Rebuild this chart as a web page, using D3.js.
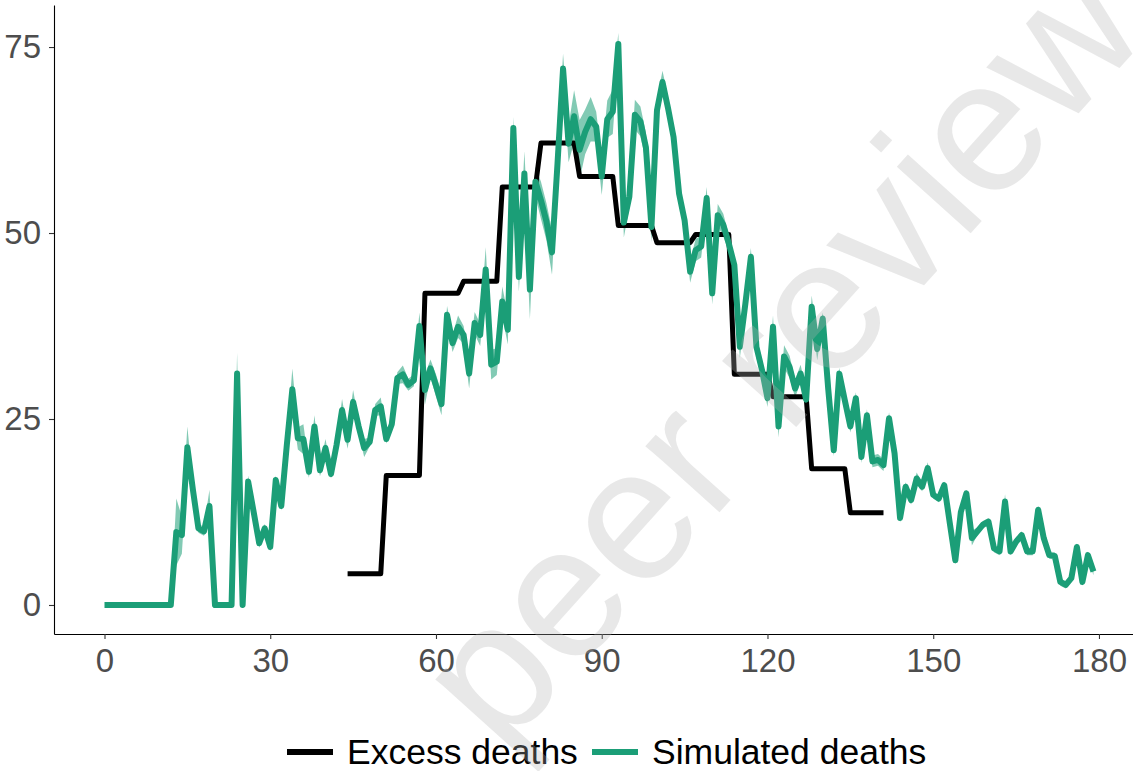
<!DOCTYPE html>
<html>
<head>
<meta charset="utf-8">
<script src="https://cdn.jsdelivr.net/npm/d3@7/dist/d3.min.js"></script>
<style>
  body { margin: 0; background: #fff; }
  text { font-family: "Liberation Sans", Arial, sans-serif; }
</style>
</head>
<body>
<div id="chart"></div>
<script>
// Simulated deaths per day (day 0 .. 179)
const simDeaths = [
  0, 0, 0, 0, 0, 0, 0, 0, 0, 0, 0, 0, 0, 9.8, 9.4, 21.2, 15.5, 10.3, 9.9, 13.3,
  0, 0, 0, 0, 31.1, 0, 16.6, 12.5, 8.3, 10.3, 7.8, 16.8, 13.3, 21.5, 29.0, 22.4, 22.3, 17.9, 24.0, 18.1,
  21.1, 17.6, 21.5, 26.2, 22.2, 27.3, 24.0, 21.1, 21.9, 26.2, 26.7, 22.3, 24.3, 30.5, 31.0, 29.6, 30.2, 37.5, 28.9, 31.8,
  29.5, 27.0, 39.0, 35.2, 37.4, 36.3, 31.1, 37.9, 36.3, 45.1, 32.3, 32.7, 40.8, 37.0, 64.1, 44.1, 58.0, 42.4, 56.9, 54.4,
  51.5, 47.4, 59.4, 72.1, 62.0, 65.7, 61.2, 63.6, 65.3, 64.3, 57.6, 65.3, 66.3, 75.4, 51.4, 54.9, 65.9, 65.0, 61.5, 50.8,
  66.5, 70.3, 66.8, 62.9, 55.3, 51.7, 44.8, 47.7, 48.2, 54.7, 41.9, 52.4, 51.1, 48.6, 45.7, 34.7, 40.5, 46.8, 34.7, 31.6,
  27.8, 37.4, 24.0, 33.4, 32.0, 29.1, 31.1, 27.6, 40.1, 34.4, 38.5, 29.0, 20.8, 31.1, 27.5, 24.0, 27.8, 19.9, 25.5, 19.3,
  19.5, 18.8, 25.1, 20.4, 11.7, 15.9, 14.1, 17.0, 15.9, 18.4, 14.8, 14.3, 16.1, 11.0, 6.0, 12.5, 15.0, 9.0, 9.9, 10.8,
  11.2, 7.6, 7.2, 13.9, 7.2, 8.5, 9.4, 7.2, 7.2, 12.8, 9.0, 6.7, 6.6, 3.1, 2.7, 3.6, 7.8, 3.1, 6.7, 4.5
];

// Half-width of the uncertainty band around the simulated deaths
const simSpread = [
  0, 0, 0, 0, 0, 0, 0, 0, 0, 0, 0, 0, 0, 4.5, 2.5, 2.8, 0.8, 0.6, 0.6, 2.2,
  0, 0, 0, 0, 2.8, 0, 0.8, 0.6, 0.6, 0.6, 0.6, 0.6, 0.6, 0.8, 2.8, 1.5, 2.0, 0.8, 1.5, 0.8,
  1.2, 0.6, 0.6, 1.5, 1.2, 1.6, 0.8, 1.2, 0.6, 0.8, 1.2, 0.6, 0.6, 0.8, 1.2, 0.8, 0.8, 1.8, 2.0, 1.2,
  1.5, 1.5, 1.2, 1.2, 1.5, 1.2, 2.0, 1.5, 1.5, 3.0, 2.0, 1.8, 2.0, 2.0, 1.5, 2.0, 3.0, 4.0, 2.0, 2.5,
  2.5, 3.0, 2.0, 2.0, 2.5, 3.5, 4.0, 3.0, 3.0, 2.0, 2.5, 2.5, 3.0, 1.5, 2.0, 1.5, 2.0, 2.0, 2.0, 2.0,
  1.5, 1.5, 1.5, 1.2, 1.2, 1.2, 1.5, 1.5, 1.5, 1.5, 1.5, 1.5, 1.5, 1.2, 1.2, 1.5, 1.5, 1.2, 1.5, 1.2,
  1.2, 1.5, 1.5, 1.5, 1.5, 1.2, 1.2, 1.2, 1.5, 1.5, 0.8, 0.8, 0.8, 0.8, 0.8, 0.8, 0.8, 0.8, 0.8, 0.8,
  0.8, 0.8, 0.8, 0.6, 0.6, 0.6, 0.6, 0.8, 0.6, 0.8, 0.5, 0.5, 0.5, 0.5, 0.5, 0.5, 0.5, 1.0, 0.5, 0.5,
  0.5, 0.5, 0.5, 1.0, 0.5, 0.5, 0.5, 0.5, 0.5, 0.5, 0.5, 0.5, 0.5, 0.5, 0.5, 0.5, 0.5, 0.5, 0.5, 0.5
];

// Excess deaths: weekly values, each held for 7 days from its start day
const excessWeekStart = [44, 51, 58, 65, 72, 79, 86, 93, 100, 107, 114, 121, 128, 135];
const excessDeaths = [4.2, 17.4, 41.9, 43.5, 56.2, 62.1, 57.6, 51.0, 48.7, 49.8, 31.0, 28.0, 18.3, 12.4];

const xTicks = [0, 30, 60, 90, 120, 150, 180];
const yTicks = [0, 25, 50, 75];
const legendLabels = ["Excess deaths", "Simulated deaths"];
const legendColors = ["#000000", "#1b9e77"];

const W = 1133, H = 771;
const green = "#1b9e77";

const svg = d3.select("#chart").append("svg")
  .attr("width", W)
  .attr("height", H);

const x = d3.scaleLinear().domain([-9.14, 186.16]).range([54, 1133]);
const y = d3.scaleLinear().domain([-3.9, 80.65]).range([634, 5]);

// Build rows
const simRows = simDeaths.map((v, i) => ({ day: i, v: v, lo: v - simSpread[i], hi: v + simSpread[i] }));
const excessRows = [];
excessWeekStart.forEach((s, i) => {
  excessRows.push({ day: s, v: excessDeaths[i] });
  excessRows.push({ day: s + 6, v: excessDeaths[i] });
});

// Ribbon
svg.append("path")
  .datum(simRows)
  .attr("fill", green)
  .attr("fill-opacity", 0.55)
  .attr("d", d3.area()
    .x(d => x(d.day))
    .y0(d => y(d.lo))
    .y1(d => y(d.hi)));

// Excess deaths
svg.append("path")
  .datum(excessRows)
  .attr("fill", "none")
  .attr("stroke", "#000")
  .attr("stroke-width", 5)
  .attr("stroke-linejoin", "round")
  .attr("d", d3.line().x(d => x(d.day)).y(d => y(d.v)));

// Simulated deaths
svg.append("path")
  .datum(simRows)
  .attr("fill", "none")
  .attr("stroke", green)
  .attr("stroke-width", 6)
  .attr("stroke-linejoin", "round")
  .attr("stroke-linecap", "butt")
  .attr("d", d3.line().x(d => x(d.day)).y(d => y(d.v)));

// Axes
const xAxis = svg.append("g")
  .attr("transform", `translate(0,634)`)
  .call(d3.axisBottom(x).tickValues(xTicks).tickSize(5).tickPadding(10).tickSizeOuter(0));
const yAxis = svg.append("g")
  .attr("transform", `translate(54,0)`)
  .call(d3.axisLeft(y).tickValues(yTicks).tickSize(5).tickPadding(8).tickSizeOuter(0));

[xAxis, yAxis].forEach(g => {
  g.select(".domain").attr("stroke", "#000").attr("stroke-width", 1.1);
  g.selectAll(".tick line").attr("stroke", "#333").attr("stroke-width", 1.1);
  g.selectAll(".tick text")
    .attr("fill", "#4d4d4d")
    .style("font-size", "33px")
    .style("font-family", "'Liberation Sans', Arial, sans-serif");
});

// Legend
const legendX = [287, 592];
legendLabels.forEach((lab, i) => {
  svg.append("line")
    .attr("x1", legendX[i]).attr("x2", legendX[i] + 46)
    .attr("y1", 752).attr("y2", 752)
    .attr("stroke", legendColors[i])
    .attr("stroke-width", 6);
  svg.append("text")
    .attr("x", legendX[i] + 60)
    .attr("y", 764)
    .attr("fill", "#000")
    .style("font-size", "35.5px")
    .text(lab);
});

// Watermark
svg.append("text")
  .attr("transform", "translate(826,394) rotate(-48)")
  .attr("text-anchor", "middle")
  .attr("fill", "#b4b4b4")
  .attr("fill-opacity", 0.3)
  .style("font-size", "188px")
  .text("peer review");
</script>
</body>
</html>
